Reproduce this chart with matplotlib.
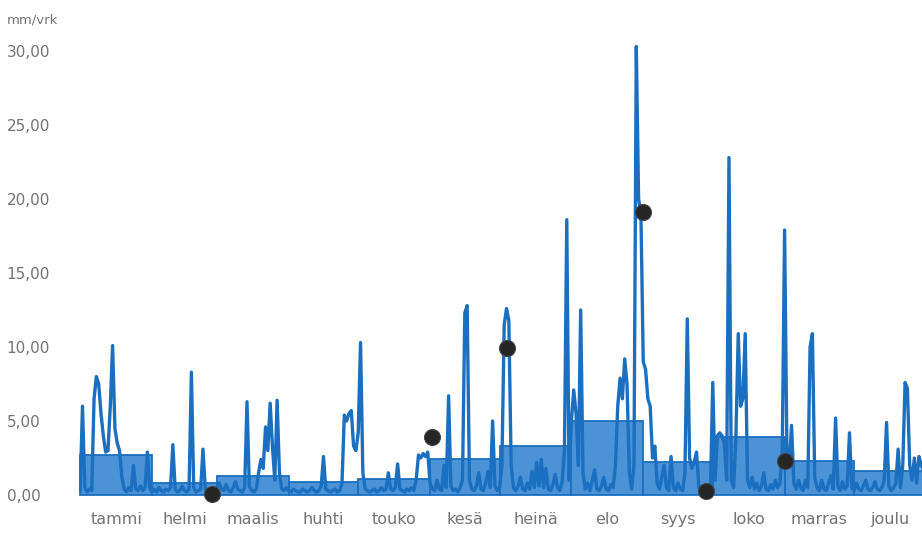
import numpy as np
import matplotlib
matplotlib.use("Agg")
import matplotlib.pyplot as plt

# ---- data ----
months = ["tammi", "helmi", "maalis", "huhti", "touko", "kesä",
          "heinä", "elo", "syys", "loko", "marras", "joulu"]
month_days = [31, 28, 31, 30, 31, 30, 31, 31, 30, 31, 30, 31]
monthly_mean = [2.7, 0.8, 1.3, 0.9, 1.1, 2.4, 3.3, 5.0, 2.2, 3.9, 2.3, 1.6]

jan = [0.3, 6.0, 0.5, 0.2, 0.4, 0.3, 6.5, 8.0, 7.5, 5.5, 4.0, 2.9, 3.0, 6.0, 10.1,
       4.5, 3.5, 3.0, 1.2, 0.4, 0.2, 0.5, 0.3, 2.0, 0.4, 0.3, 0.6, 0.3, 0.5, 2.9, 0.5]
feb = [0.2, 0.4, 0.2, 0.5, 0.3, 0.2, 0.4, 0.3, 0.5, 3.4, 0.4, 0.2, 0.3, 0.6, 0.3,
       0.2, 0.4, 8.3, 0.5, 0.2, 0.3, 0.4, 3.1, 0.4, 0.2, 0.1, 0.1, 0.3]
mar = [0.5, 0.8, 0.4, 0.3, 0.7, 0.3, 0.2, 0.5, 0.9, 0.4, 0.3, 0.2, 0.5, 6.3, 0.6,
       0.3, 0.2, 0.4, 1.5, 2.4, 1.8, 4.6, 3.0, 6.2, 3.2, 1.0, 6.4, 1.5, 0.4, 0.3, 0.5]
apr = [0.3, 0.2, 0.4, 0.3, 0.2, 0.2, 0.4, 0.3, 0.2, 0.3, 0.5, 0.3, 0.2, 0.3, 0.6,
       2.6, 0.4, 0.3, 0.2, 0.3, 0.4, 0.2, 0.3, 0.8, 5.4, 5.0, 5.5, 5.7, 3.3, 3.0]
may = [4.2, 10.3, 1.5, 0.4, 0.3, 0.2, 0.3, 0.4, 0.2, 0.3, 0.5, 0.3, 0.4, 1.5, 0.4,
       0.3, 0.5, 2.1, 0.4, 0.3, 0.2, 0.4, 0.3, 0.5, 0.3, 1.0, 2.7, 2.5, 2.8, 2.6, 2.9]
jun = [0.8, 0.4, 0.3, 1.0, 0.4, 0.3, 2.0, 0.5, 6.7, 0.6, 0.3, 0.4, 0.2, 0.5, 1.0,
       12.3, 12.8, 1.0, 0.4, 0.3, 0.6, 1.5, 0.4, 0.3, 0.8, 1.6, 0.5, 5.0, 0.6, 0.3]
jul = [0.5, 2.0, 11.5, 12.6, 11.8, 2.0, 0.5, 0.3, 0.6, 1.2, 0.4, 0.3, 0.8, 0.4, 1.6,
       0.5, 2.2, 0.6, 2.4, 0.5, 1.8, 0.4, 0.3, 0.7, 1.4, 0.5, 0.3, 0.9, 3.0, 18.6, 1.0]
aug = [5.0, 7.1, 5.5, 2.0, 12.5, 1.5, 0.4, 0.8, 0.3, 1.0, 1.7, 0.4, 0.3, 0.6, 1.2,
       0.4, 0.3, 0.7, 0.5, 2.0, 6.0, 7.9, 6.5, 9.2, 7.5, 1.5, 0.4, 2.0, 30.3, 20.0, 19.0]
sep = [9.0, 8.5, 6.5, 6.0, 2.5, 3.3, 0.8, 0.4, 1.2, 2.0, 0.5, 0.3, 2.6, 0.5, 0.3,
       0.8, 0.4, 0.3, 1.5, 11.9, 2.5, 1.8, 2.2, 2.9, 0.5, 0.2, 0.3, 0.2, 0.4, 0.3]
oct_ = [7.6, 1.0, 4.0, 4.2, 4.0, 3.5, 1.0, 22.8, 1.0, 0.5, 4.0, 10.9, 6.0, 6.5, 10.9,
        1.0, 0.5, 1.2, 0.4, 0.8, 0.3, 0.6, 1.5, 0.4, 0.3, 0.7, 0.4, 1.0, 0.5, 0.8, 3.0]
nov = [17.9, 3.0, 2.0, 4.7, 0.8, 0.4, 1.0, 0.5, 0.3, 1.0, 0.5, 10.0, 10.9, 1.2, 0.5,
       0.3, 1.0, 0.4, 0.3, 0.8, 1.3, 0.4, 5.2, 0.6, 0.3, 0.9, 0.4, 0.6, 4.2, 0.5]
dec = [0.3, 0.8, 0.4, 0.3, 0.6, 1.0, 0.4, 0.3, 0.5, 0.9, 0.4, 0.3, 0.5, 1.0, 4.9,
       0.6, 0.3, 0.5, 0.8, 3.1, 0.5, 2.0, 7.6, 7.2, 2.0, 1.0, 2.5, 0.8, 2.6, 2.0, 1.5]

dot_days = [57, 152, 184, 243, 270, 304]
dot_values = [0.05, 3.9, 9.9, 19.1, 0.27, 2.3]

ytick_values = [0, 5, 10, 15, 20, 25, 30]
ytick_labels = ["0,00", "5,00", "10,00", "15,00", "20,00", "25,00", "30,00"]
unit_label = "mm/vrk"

# ---- build ----
daily = np.concatenate([jan, feb, mar, apr, may, jun, jul, aug, sep, oct_, nov, dec])
days = np.arange(len(daily))
starts = np.concatenate([[0], np.cumsum(month_days)[:-1]])
centers = starts + np.array(month_days) / 2.0

LINE = "#1a6fc0"
FILL = "#4b93d6"
TXT = "#737373"

plt.rcParams["font.family"] = ["DejaVu Sans"]

fig = plt.figure(figsize=(9.22, 5.33), dpi=100)
ax = fig.add_axes([79 / 922, 0.0574, 1 - 79 / 922, 0.8886])

ax.bar(starts, monthly_mean, width=month_days, align="edge",
       color=FILL, edgecolor=LINE, linewidth=1.3, zorder=1)
ax.plot(days, daily, color=LINE, lw=2.4, zorder=2, solid_joinstyle="round")
ax.scatter(dot_days, dot_values, s=11.5 ** 2, c="#262626",
           edgecolors="#454545", linewidths=0.8, zorder=3)

ax.set_xlim(-0.5, 363.3)
ax.set_ylim(-0.5, 31.5)

ax.set_yticks(ytick_values)
ax.set_yticklabels(ytick_labels, fontsize=11, color=TXT)
for lab in ax.get_yticklabels():
    lab.set_horizontalalignment("left")
ax.tick_params(axis="y", length=0, pad=52)

ax.set_xticks(centers)
ax.set_xticklabels(months, fontsize=11.5, color=TXT)
ax.tick_params(axis="x", length=0, pad=7)

for s in ax.spines.values():
    s.set_visible(False)

fig.text(7 / 922, 1 - 20 / 533, unit_label, fontsize=9.5, color=TXT,
         ha="left", va="center")

fig.savefig("out.png", dpi=100)
